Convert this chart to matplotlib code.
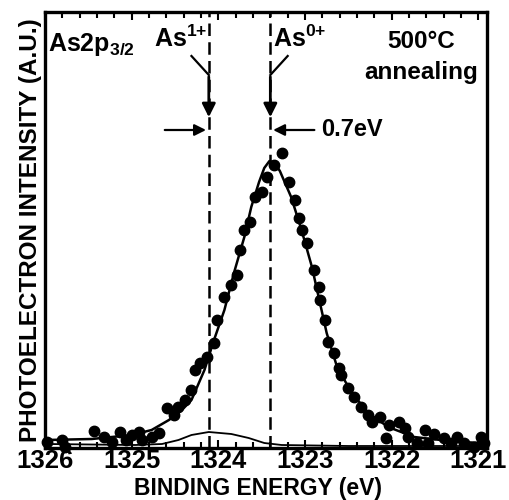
import matplotlib.pyplot as plt
from matplotlib.ticker import MultipleLocator

plt.rcParams['font.family'] = ['Liberation Sans', 'DejaVu Sans']
plt.rcParams['font.weight'] = 'bold'
plt.rcParams['mathtext.fontset'] = 'custom'
plt.rcParams['mathtext.rm'] = 'Liberation Sans:bold'
plt.rcParams['mathtext.it'] = 'Liberation Sans:bold'
plt.rcParams['mathtext.bf'] = 'Liberation Sans:bold'

# measured points (binding energy, intensity a.u.)
dot_e = [1325.98, 1325.80, 1325.77, 1325.44, 1325.32, 1325.23, 1325.14, 1325.06,
         1325.00, 1324.92, 1324.88, 1324.77, 1324.68, 1324.59, 1324.51, 1324.46,
         1324.39, 1324.31, 1324.27, 1324.21, 1324.13, 1324.05, 1324.02, 1323.94,
         1323.85, 1323.79, 1323.75, 1323.70, 1323.64, 1323.58, 1323.50, 1323.44,
         1323.36, 1323.27, 1323.19, 1323.12, 1323.07, 1323.03, 1322.98, 1322.90,
         1322.84, 1322.83, 1322.77, 1322.73, 1322.67, 1322.61, 1322.58, 1322.50,
         1322.43, 1322.35, 1322.27, 1322.23, 1322.14, 1322.06, 1322.03, 1321.92,
         1321.85, 1321.81, 1321.71, 1321.62, 1321.58, 1321.51, 1321.40, 1321.31,
         1321.25, 1321.16, 1321.05, 1320.97, 1320.93]
dot_i = [6, 8, 1, 17, 11, 6, 16, 8,
         13, 16, 8, 11, 15, 40, 33, 41,
         48, 58, 78, 85, 91, 105, 128, 151,
         163, 173, 198, 218, 226, 251, 256, 271,
         283, 295, 266, 248, 230, 218, 205, 178,
         161, 148, 128, 106, 95, 80, 73, 60,
         51, 41, 33, 26, 31, 10, 23, 26,
         20, 11, 5, 18, 5, 14, 10, 5,
         11, 5, 1, 11, 5]

# fitted envelope
fit_e = [1325.98, 1325.46, 1325.00, 1324.77, 1324.57, 1324.42, 1324.31, 1324.16,
         1324.05, 1323.93, 1323.82, 1323.70, 1323.62, 1323.53, 1323.47, 1323.41,
         1323.35, 1323.29, 1323.16, 1323.04, 1322.92, 1322.83, 1322.75, 1322.63,
         1322.46, 1322.27, 1322.04, 1321.74, 1321.23, 1320.93]
fit_i = [8, 9, 13, 18, 28, 38, 48, 78,
         108, 138, 175, 211, 241, 266, 280, 287,
         285, 277, 251, 218, 181, 146, 115, 81,
         55, 35, 21, 11, 6, 5]

# As1+ component
comp_e = [1325.98, 1324.96, 1324.65, 1324.46, 1324.31, 1324.11, 1323.85, 1323.65,
          1323.47, 1323.27, 1322.50, 1320.93]
comp_i = [4, 3, 4, 8, 13, 16, 14, 10, 5, 3, 2, 2]

as1_e = 1324.11
as0_e = 1323.40

fig = plt.figure(figsize=(5.09, 5.0), dpi=100)
ax = fig.add_axes([0.0884, 0.104, 0.8684, 0.872])

ax.plot(fit_e, fit_i, color='black', lw=1.8, solid_joinstyle='round')
ax.plot(comp_e, comp_i, color='black', lw=1.3)
ax.plot(dot_e, dot_i, 'o', color='black', ms=7.5, clip_on=False)

for e in (as1_e, as0_e):
    ax.axvline(e, color='black', lw=1.8, ls=(0, (5, 2.5)))

ax.set_xlim(1326.0, 1320.9)
ax.set_ylim(0, 436)

ax.xaxis.set_major_locator(MultipleLocator(1))
ax.xaxis.set_minor_locator(MultipleLocator(0.2))
ax.tick_params(axis='x', which='both', direction='in', top=True, bottom=True,
               width=1.5, labelsize=18.5, pad=1)
ax.tick_params(axis='x', which='major', length=6)
ax.tick_params(axis='x', which='minor', length=4)
ax.set_yticks([])
for s in ax.spines.values():
    s.set_linewidth(2.4)

fig.text(0.506, 0.0, 'BINDING ENERGY (eV)', fontsize=16.5, fontweight='bold',
         ha='center', va='bottom')
ax.set_ylabel('PHOTOELECTRON INTENSITY (A.U.)', fontsize=17.5, fontweight='bold', labelpad=2)

ax.text(1325.97, 404, r'As2p$_{3/2}$', fontsize=18, va='center', ha='left')
ax.text(1324.12, 409, r'As$^{1{+}}$', fontsize=18, va='center', ha='right')
ax.text(1323.37, 409, r'As$^{0{+}}$', fontsize=18, va='center', ha='left')
ax.text(1321.66, 406, '500°C', fontsize=17.5, va='center', ha='center')
ax.text(1321.66, 376, 'annealing', fontsize=17.5, va='center', ha='center')
ax.text(1322.81, 318, '0.7eV', fontsize=17, va='center', ha='left')

# pointer arrows from the labels
ax.plot([1324.31, as1_e], [392, 373], color='black', lw=1.6)
ax.annotate('', xy=(as1_e, 328), xytext=(as1_e, 374),
            arrowprops=dict(arrowstyle='-|>', color='black', lw=2, mutation_scale=20))
ax.plot([1323.2, as0_e], [392, 373], color='black', lw=1.6)
ax.annotate('', xy=(as0_e, 328), xytext=(as0_e, 374),
            arrowprops=dict(arrowstyle='-|>', color='black', lw=2, mutation_scale=20))

# 0.7 eV width arrows
ax.annotate('', xy=(as1_e, 318), xytext=(1324.65, 318),
            arrowprops=dict(arrowstyle='-|>', color='black', lw=1.6, mutation_scale=17))
ax.annotate('', xy=(as0_e, 318), xytext=(1322.86, 318),
            arrowprops=dict(arrowstyle='-|>', color='black', lw=1.6, mutation_scale=17))

fig.savefig('out.png', dpi=100)
